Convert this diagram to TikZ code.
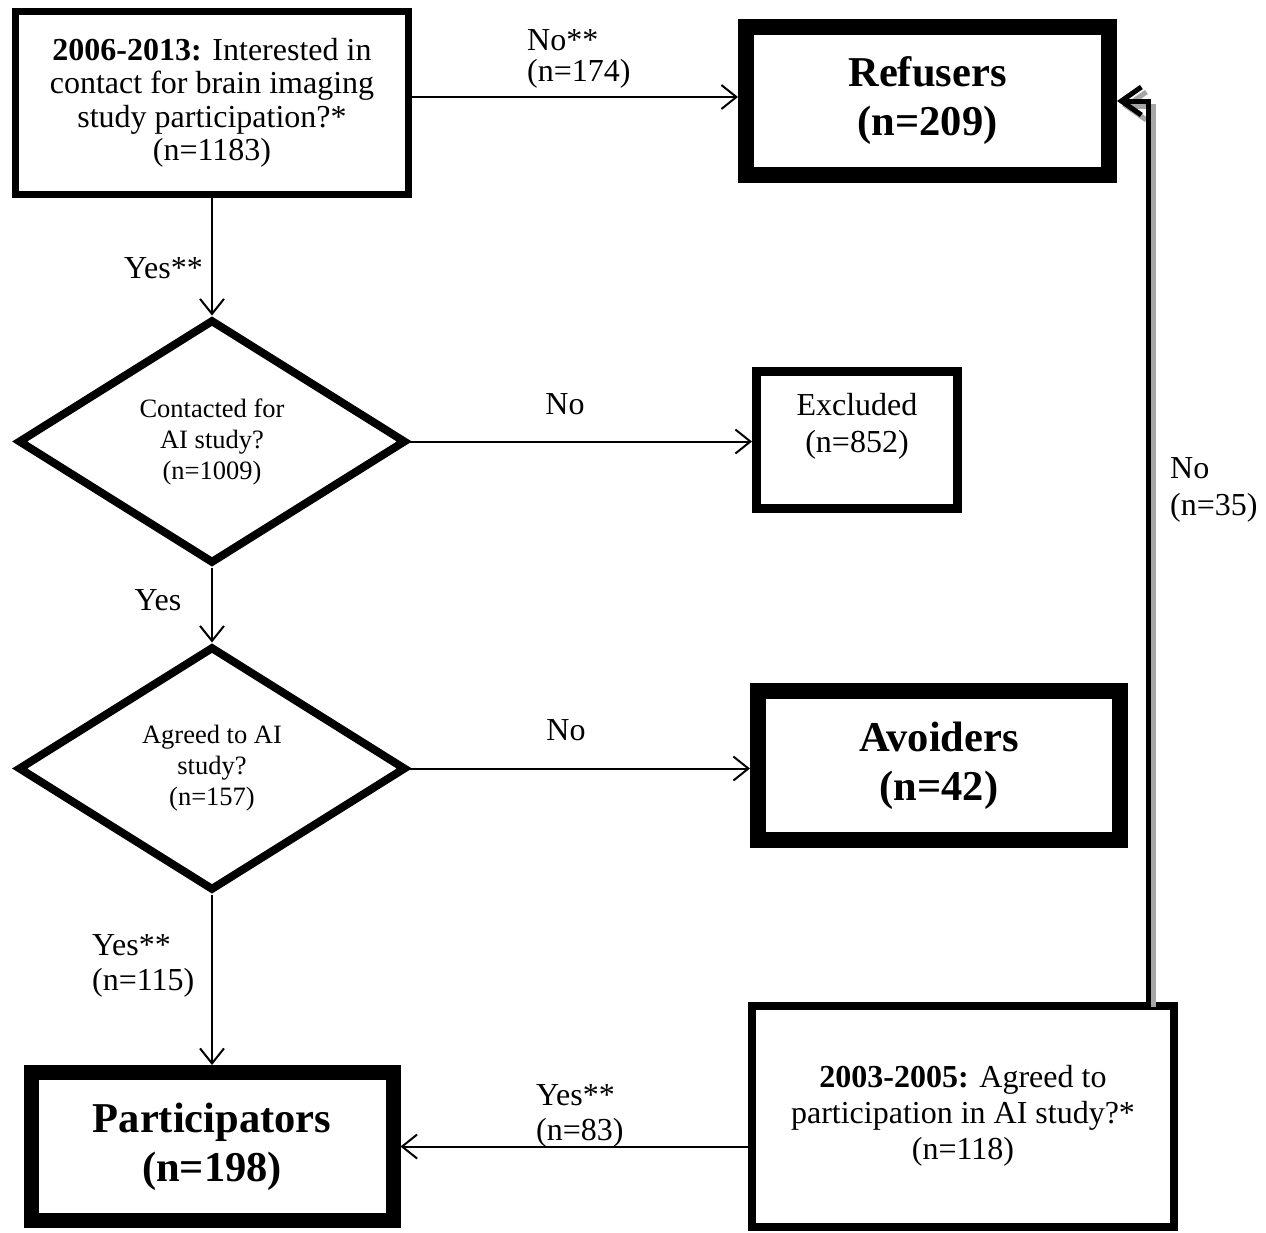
\documentclass[tikz,border=0pt]{standalone}
\usepackage{fontspec}
\setmainfont{Liberation Serif}
\usetikzlibrary{arrows.meta,shapes.geometric}
\begin{document}
\begin{tikzpicture}[x=1pt,y=-1pt,
  qbox/.style={draw, rectangle, line width=7pt, inner sep=0pt, align=center, font=\fontsize{32}{33.5}\selectfont},
  bigbox/.style={draw, rectangle, line width=16pt, inner sep=0pt, align=center, font=\fontsize{42.5}{49}\selectfont\bfseries},
  dec/.style={draw, diamond, line width=8pt, inner sep=0pt, aspect=1.6, minimum width=388pt, minimum height=244pt, align=center, font=\fontsize{26.5}{31}\selectfont},
  conn/.style={line width=2pt, -{Straight Barb[length=15pt,width=24pt,line width=2pt]}},
  fbconn/.style={line width=5pt, -{Straight Barb[length=20pt,width=28pt,line width=5pt]}},
  lbl/.style={font=\fontsize{32}{35}\selectfont, inner sep=0pt}
]
\path[use as bounding box, fill=white] (0,0) rectangle (1266,1232);

% boxes
\node[qbox, minimum width=393pt, minimum height=183pt] (q1) at (212,103)
  {\textbf{2006-2013:} Interested in\\contact for brain imaging\\study participation?*\\(n=1183)};
\node[bigbox, minimum width=363pt, minimum height=148pt] (ref) at (927.5,101) {Refusers\\(n=209)};
\node[dec] (d1) at (212,441.5) {Contacted for\\AI study?\\(n=1009)};
\node[draw, rectangle, line width=9pt, minimum width=201pt, minimum height=137pt, inner sep=0pt] (exc) at (857,440) {};
\node[font=\fontsize{32}{37}\selectfont, align=center, inner sep=0pt] (exctxt) at (857,426) {Excluded\\(n=852)};
\node[dec] (d2) at (212,768.5) {Agreed to AI\\study?\\(n=157)};
\node[bigbox, minimum width=362pt, minimum height=149pt] (av) at (939,765.5) {Avoiders\\(n=42)};
\node[bigbox, line width=15pt, minimum width=362pt, minimum height=148pt] (par) at (212,1146.5) {Participators\\(n=198)};
\node[qbox, line width=8pt, minimum width=422pt, minimum height=221pt, font=\fontsize{32}{36}\selectfont] (q2) at (963,1116)
  {\textbf{2003-2005:} Agreed to\\participation in AI study?*\\(n=118)};

% connectors
\coordinate (q1r) at ([yshift=6pt]q1.east);
\draw[conn] (q1r) -- (q1r -| ref.west);
\draw[conn] (q1.south) -- (d1.north);
\draw[conn] (d1.east) -- (d1.east -| exc.west);
\draw[conn] (d1.south) -- (d2.north);
\draw[conn] (d2.east) -- (d2.east -| av.west);
\draw[conn] (d2.south) -- (par.north);
\draw[conn] (q2.west |- par.east) -- (par.east);
\coordinate (fb) at ([xshift=185pt]q2.north);
\draw[fbconn, draw=gray!70, transform canvas={shift={(5pt,-5pt)}}] (fb) |- (ref.east);
\draw[fbconn] (fb) |- (ref.east);

% labels
\node[lbl, anchor=base west] (l1a) at (527,50) {No**};
\node[lbl, anchor=base west] (l1b) at (527,81) {(n=174)};
\node[lbl, anchor=base east] (l2) at (203,278) {Yes**};
\node[lbl, anchor=base] (l3) at (565,414) {No};
\node[lbl, anchor=base] (l4) at (158,610) {Yes};
\node[lbl, anchor=base] (l5) at (566,740) {No};
\node[lbl, anchor=base west] (l6a) at (92,955) {Yes**};
\node[lbl, anchor=base west] (l6b) at (92,990) {(n=115)};
\node[lbl, anchor=base west] (l7a) at (536,1105) {Yes**};
\node[lbl, anchor=base west] (l7b) at (536,1140) {(n=83)};
\node[lbl, anchor=base west] (l8a) at (1170,478) {No};
\node[lbl, anchor=base west] (l8b) at (1170,515) {(n=35)};
\end{tikzpicture}
\end{document}
